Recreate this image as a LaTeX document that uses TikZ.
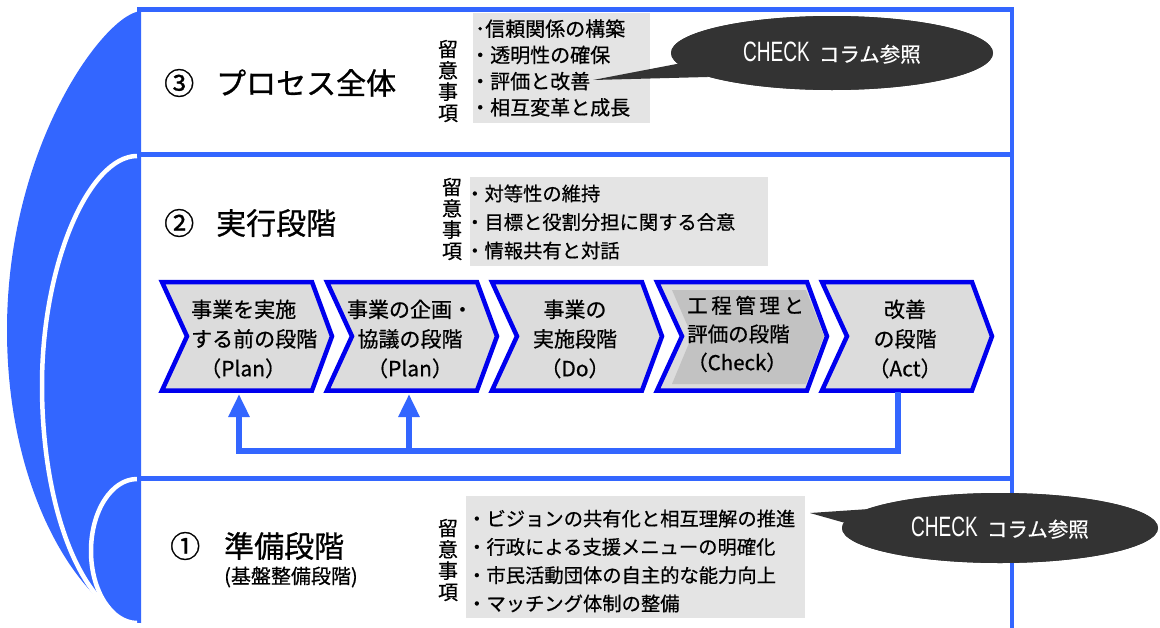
\documentclass[tikz,border=0pt]{standalone}
\usepackage{fontspec}
\usepackage{graphicx}
\setmainfont{Noto Sans CJK JP}[FakeBold=0.6]
\newfontfamily\heavy{Noto Sans CJK JP}[FakeBold=0.9]
\newfontfamily\checkfont{Liberation Sans}
\usetikzlibrary{arrows.meta,shapes.geometric}
\definecolor{bandblue}{HTML}{3366FF}
\definecolor{chevblue}{HTML}{0000EE}
\definecolor{chevfill}{HTML}{DCDCDC}
\definecolor{notefill}{HTML}{E4E4E4}
\definecolor{calloutfill}{HTML}{333333}
\definecolor{innergray}{HTML}{C2C2C2}
\newcommand\fsz[2]{\fontsize{#1pt}{#2pt}\selectfont}
\newcommand\checklabel{{\checkfont\fsz{28}{30}\scalebox{0.68}[1]{CHECK}}\hspace{9pt}{\fsz{20.5}{24}コラム参照}}
\begin{document}
\begin{tikzpicture}[x=1pt,y=-1pt,
  frame/.style={draw=bandblue,line width=4.5pt},
  chev/.style={draw=chevblue,fill=chevfill,line width=4.5pt,line join=miter},
  chevtext/.style={align=center,inner sep=0pt,font=\fsz{21}{29.5}},
  title/.style={anchor=west,inner sep=0pt,font=\heavy\fsz{30}{36}},
  vlabel/.style={align=center,inner sep=0pt,font=\fsz{20}{21.3}},
  notebox/.style={fill=notefill,inner sep=0pt,anchor=north west,draw=none},
  notetext/.style={anchor=west,align=left,inner sep=0pt},
  callout/.style={fill=calloutfill,draw=none},
  calloutnode/.style={ellipse,fill=calloutfill,inner sep=0pt,text=white},
  sepline/.style={draw=white,line width=4.5pt},
  fb/.style={draw=bandblue,line width=6pt,line join=miter},
  fbtip/.style={-{Triangle[width=20pt,length=23pt]}},
  chevron/.pic={\draw[chev] (0,0) -- (150,0) -- (170,54.25) -- (150,108.5) -- (0,108.5) -- (25,54.25) -- cycle;}
]
\useasboundingbox (0,0) rectangle (1160,627);

% left blue band
\fill[bandblue] (141,11.5) -- (138,11.5) .. controls (100,20) and (7,150) .. (7,330)
  .. controls (7,470) and (60,570) .. (109,608) .. controls (118,617) and (128,623) .. (141,623) -- cycle;
\draw[sepline] (137,156) .. controls (90,156) and (42,262) .. (42,385)
  .. controls (42,490) and (70,575) .. (109,608);
\draw[sepline] (137,479) .. controls (111.6,479) and (91,511.2) .. (91,551)
  .. controls (91,590.8) and (111.6,623) .. (137,623);

% frame
\draw[frame] (137,9.7) -- (1012,9.7) -- (1012,632);
\draw[frame] (137,154.5) -- (1012,154.5);
\draw[frame] (137,478.5) -- (1012,478.5);

% titles
\node[title] (t3) at (164,83) {③\hspace{22pt}プロセス全体};
\node[title] (t2) at (164,223) {②\hspace{22pt}実行段階};
\node[title] (t1) at (170,546) {①\hspace{24pt}準備段階};
\node[anchor=west,inner sep=0pt,font=\fsz{20}{24}] (t1s) at (224,577) {(基盤整備段階)};

% notes section 3
\node[notebox,minimum width=177pt,minimum height=110pt] (n3) at (473,13) {};
\node[vlabel] (v3) at (448,81) {留\\意\\事\\項};
\node[notetext,font=\fsz{20}{26.2}] (n3t) at (470,68) {\hspace{5pt}･信頼関係の構築\\・透明性の確保\\・評価と改善\\・相互変革と成長};

% notes section 2
\node[notebox,minimum width=298pt,minimum height=89pt] (n2) at (470,177) {};
\node[vlabel] (v2) at (452,219) {留\\意\\事\\項};
\node[notetext,font=\fsz{19.3}{28.5}] (n2t) at (465,222) {・対等性の維持\\・目標と役割分担に関する合意\\・情報共有と対話};

% notes section 1
\node[notebox,minimum width=339pt,minimum height=122pt] (n1) at (466,496) {};
\node[vlabel] (v1) at (448,560) {留\\意\\事\\項};
\node[notetext,font=\fsz{19.3}{28.3}] (n1t) at (467,561) {・ビジョンの共有化と相互理解の推進\\・行政による支援メニューの明確化\\・市民活動団体の自主的な能力向上\\・マッチング体制の整備};

% chevrons
\pic at (162,282) {chevron};
\pic at (327,282) {chevron};
\pic at (492,282) {chevron};
\pic at (657,282) {chevron};
\pic at (822,282) {chevron};
\fill[innergray] (672,290) -- (806,290) -- (824,336) -- (806,384) -- (672,384) -- (692,336) -- cycle;

\node[chevtext,align=left,anchor=west] (c1) at (191,339) {事業を実施\\する前の段階\\\hspace{9pt}（Plan）};
\node[chevtext] (c2) at (410,339) {事業の企画・\\協議の段階\\（Plan）};
\node[chevtext] (c3) at (575,339) {事業の\\実施段階\\（Do）};
\node[chevtext,align=left,anchor=west,font=\fsz{20.5}{28.5}] (c4) at (687,334) {工\hspace{3.6pt}程\hspace{3.6pt}管\hspace{3.6pt}理\hspace{3.6pt}と\\評価の段階\\（Check）};
\node[chevtext] (c5) at (905,339) {改善\\の段階\\（Act）};

% feedback connectors
\coordinate (b1) at (239,394);
\coordinate (b2) at (409,394);
\coordinate (b5) at (898,392);
\coordinate (j) at (0,451);
\draw[fb,fbtip] (b5) -- (b5 |- j) -- (b1 |- j) -- (b1);
\draw[fb,fbtip] (b2 |- j) -- (b2);

% callouts
\coordinate (tip3) at (593,80);
\node[calloutnode,minimum width=322pt,minimum height=74pt] (co3) at (832,53) {};
\fill[callout] (co3.184) -- (tip3) -- (co3.191) -- cycle;
\node[calloutnode,minimum width=322pt,minimum height=74pt] (co3b) at (832,53) {\checklabel};

\coordinate (tip1) at (810,513);
\node[calloutnode,minimum width=316pt,minimum height=70pt] (co1) at (1000,528) {};
\fill[callout] (co1.172) -- (tip1) -- (co1.178) -- cycle;
\node[calloutnode,minimum width=316pt,minimum height=70pt] (co1b) at (1000,528) {\checklabel};
\end{tikzpicture}
\end{document}
